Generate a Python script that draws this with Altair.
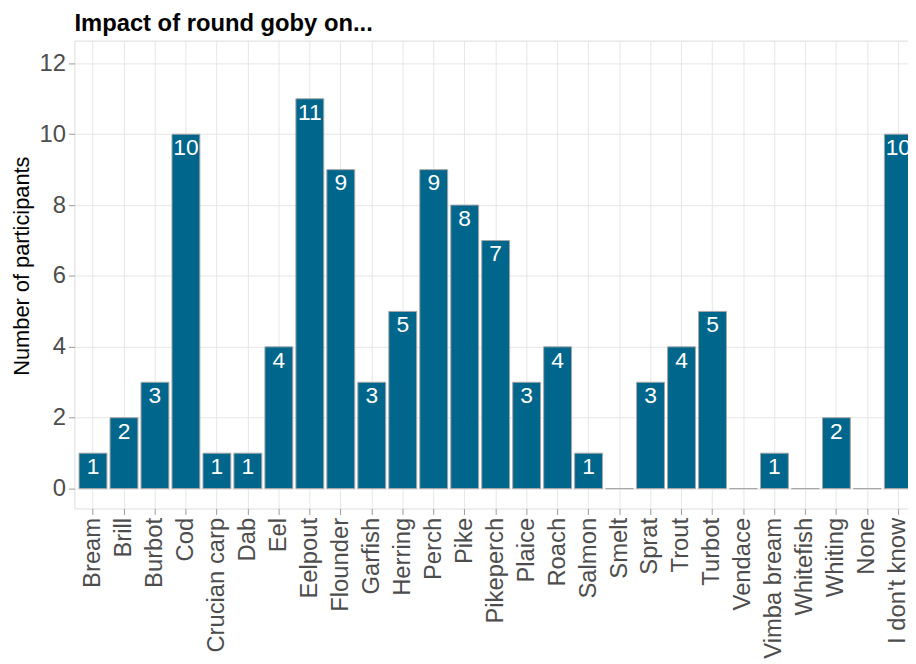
import altair as alt
import pandas as pd

species = ["Bream", "Brill", "Burbot", "Cod", "Crucian carp", "Dab", "Eel", "Eelpout",
           "Flounder", "Garfish", "Herring", "Perch", "Pike", "Pikeperch", "Plaice", "Roach",
           "Salmon", "Smelt", "Sprat", "Trout", "Turbot", "Vendace", "Vimba bream",
           "Whitefish", "Whiting", "None", "I don't know"]
counts = [1, 2, 3, 10, 1, 1, 4, 11, 9, 3, 5, 9, 8, 7, 3, 4, 1, 0, 3, 4, 5, 0, 1, 0, 2, 0, 10]
y_ticks = [0, 2, 4, 6, 8, 10, 12]
title_text = ["Impact of round goby on..."]

df = pd.DataFrame({"species": species, "n": counts})

FONT = "Liberation Sans"
FILL = "#00668c"

x = alt.X("species:N", sort=species, title=None,
          scale=alt.Scale(range=[0, 850], paddingInner=0.1, paddingOuter=0.15),
          axis=alt.Axis(labelAngle=270, labelAlign="right", labelBaseline="middle",
                        labelFontSize=24, labelColor="#4d4d4d", labelFont=FONT,
                        labelPadding=3, tickSize=6, tickColor="#999999",
                        domain=False, grid=True, gridColor="#e6e6e6", bandPosition=0.5,
                        labelOverlap=False))
y = alt.Y("n:Q", title="Number of participants",
          scale=alt.Scale(domain=[-0.56, 12.64], nice=False, zero=False),
          axis=alt.Axis(values=y_ticks, labelFontSize=24, labelColor="#4d4d4d", labelFont=FONT,
                        labelPadding=3, tickSize=6, tickColor="#999999", domain=False,
                        grid=True, gridColor="#e6e6e6",
                        titleFontSize=22, titleFont=FONT, titleColor="#000000",
                        titleFontWeight="normal", titleX=-53, titleY=227,
                        titleBaseline="middle", titleAngle=270))

bars = alt.Chart(df).mark_bar(fill=FILL, stroke="#a6a6a6", strokeWidth=1).encode(
    x=x, y=y, y2=alt.datum(0))

labels = alt.Chart(df).transform_filter("datum.n > 0").mark_text(
    color="white", fontSize=23, font=FONT, baseline="top", dy=3
).encode(x=alt.X("species:N", sort=species), y="n:Q", text="n:Q")

title = alt.Chart(pd.DataFrame({"t": title_text})).mark_text(
    font=FONT, fontSize=24, fontWeight="bold", color="#000000",
    align="left", baseline="alphabetic"
).encode(x=alt.value(0), y=alt.value(-10), text="t:N")

chart = (bars + labels + title).properties(
    width=841, height=472,
    autosize=alt.AutoSizeParams(type="none"),
    padding={"left": 67, "top": 30, "right": 0, "bottom": 154},
).configure_view(stroke="#999999", strokeWidth=1.2).configure(background="white")

chart.save("out.html", embed_options={"renderer": "svg", "actions": False})
